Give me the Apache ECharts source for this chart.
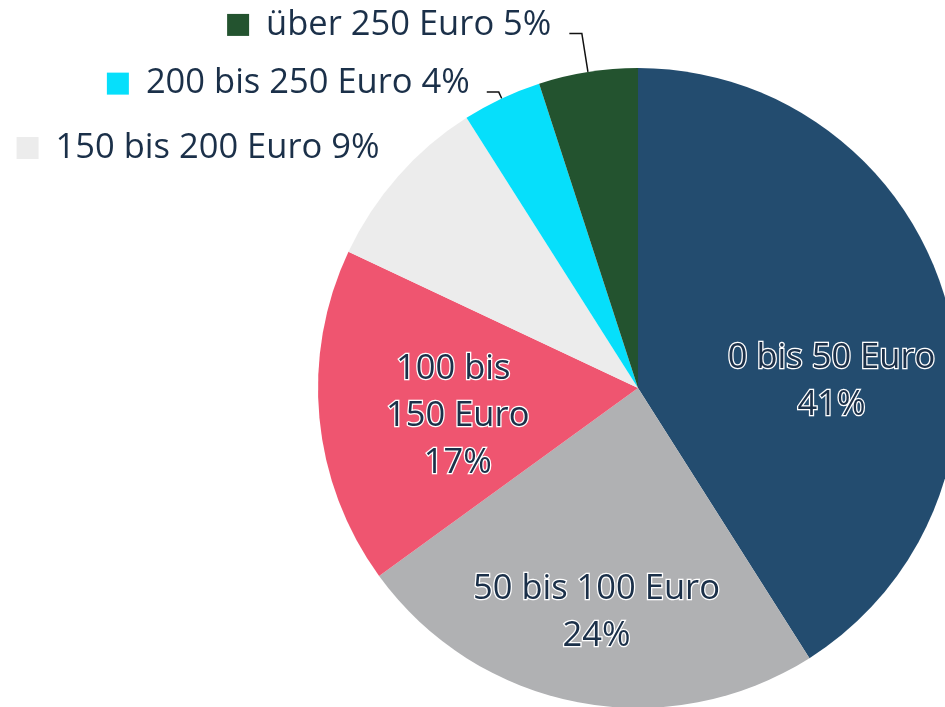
<!DOCTYPE html>
<html>
<head>
<meta charset="utf-8">
<script src="https://cdn.jsdelivr.net/npm/echarts@6/dist/echarts.min.js"></script>
<style>
html,body{margin:0;padding:0;background:#fff;}
#chart{width:945px;height:707px;}
</style>
</head>
<body>
<div id="chart"></div>
<script>
const categories = ['0 bis 50 Euro', '50 bis 100 Euro', '100 bis 150 Euro', '150 bis 200 Euro', '200 bis 250 Euro', 'über 250 Euro'];
const shares = [41, 24, 17, 9, 4, 5];
const palette = ['#234c6f', '#b0b1b3', '#ef5570', '#ececec', '#06dffb', '#23532f'];

const textColor = '#1b3049';
const font = 'Open Sans';
const fontSize = 34.5;

// inside-label styling for the big slices, outside labels with markers for small ones
const insideIdx = [0, 1, 2];
const outsideCfg = {
  3: { length: 30, length2: 0, showLine: false, dist: -4 },
  4: { length: 7, length2: 12, showLine: true, dist: 17 },
  5: { length: 39, length2: 12.5, showLine: true, dist: 18 }
};
const insideShift = { 0: [37, 39], 1: [-11, 65], 2: [-18, 13] };

const data = categories.map((name, i) => {
  const item = { name: name, value: shares[i], itemStyle: { color: palette[i] } };
  if (insideIdx.indexOf(i) >= 0) {
    item.label = {
      position: 'inside',
      formatter: '{b}\n{d}%',
      color: textColor,
      fontFamily: font,
      fontSize: fontSize,
      lineHeight: 47,
      textBorderColor: '#ffffff',
      textBorderWidth: 2.5,
      align: 'center'
    };
    if (i === 2) { item.label.width = 160; item.label.overflow = 'break'; }
    item.labelLine = { show: false };
  } else {
    const c = outsideCfg[i];
    item.label = {
      position: 'outside',
      formatter: '{m|}{t|{b} {d}%}',
      distanceToLabelLine: c.dist,
      padding: [0, 0, 17, 0],
      rich: {
        m: { width: 22, height: 22, backgroundColor: palette[i] },
        t: { color: textColor, fontFamily: font, fontSize: fontSize, padding: [0, 0, 0, 17] }
      }
    };
    item.labelLine = {
      show: c.showLine, length: c.length, length2: c.length2,
      minTurnAngle: 10,
      lineStyle: { color: '#111111', width: 1.5 }
    };
  }
  return item;
});

const chart = echarts.init(document.getElementById('chart'), null, { renderer: 'canvas' });
chart.setOption({
  animation: false,
  backgroundColor: '#ffffff',
  series: [{
    type: 'pie',
    center: [638, 388],
    radius: 320,
    startAngle: 90,
    clockwise: true,
    avoidLabelOverlap: false,
    emphasis: { disabled: true },
    data: data,
    labelLayout: function (p) {
      const s = insideShift[p.dataIndex];
      if (s) return { dx: s[0], dy: s[1] };
      return {};
    }
  }]
});
</script>
</body>
</html>
